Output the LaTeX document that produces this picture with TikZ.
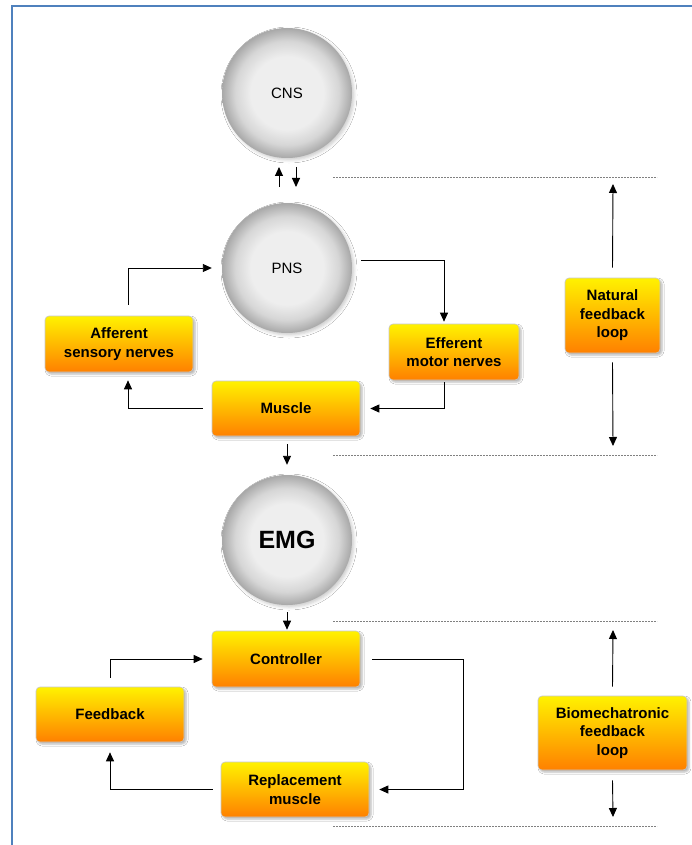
\documentclass[tikz,border=0pt]{standalone}
\usepackage{fontspec}
\setmainfont{Liberation Sans}
\usetikzlibrary{arrows.meta,shadows.blur,calc}

\definecolor{frameblue}{HTML}{4F81BD}
\definecolor{sphin}{HTML}{EEEEEE}
\definecolor{sphmid}{HTML}{D6D6D6}
\definecolor{sphout}{HTML}{A8A8A8}
\definecolor{boxtop}{HTML}{FFF200}
\definecolor{boxbot}{HTML}{FF8000}
\definecolor{boxedge}{HTML}{C8C8C8}

\pgfdeclareradialshading{sphere}{\pgfpoint{0bp}{0bp}}{%
  color(0bp)=(sphin); color(14bp)=(sphin); color(20bp)=(sphmid); color(25bp)=(sphout); color(50bp)=(sphout)}

\tikzset{
  sphere node/.style={circle, minimum size=130pt, inner sep=0pt,
    shading=sphere, draw=none,
    blur shadow={shadow xshift=2pt, shadow yshift=-2pt, shadow blur radius=3pt, shadow opacity=20}},
  orangebox/.style={rectangle, rounded corners=4pt, draw=boxedge, line width=0.6pt,
    top color=boxtop, bottom color=boxbot, align=center, inner sep=2pt,
    font=\fontsize{15}{18.5}\selectfont\bfseries,
    blur shadow={shadow xshift=2pt, shadow yshift=-2pt, shadow blur radius=2pt, shadow opacity=30}},
  arr/.style={draw=black, line width=0.9pt, -{Triangle[length=9pt,width=8pt]}},
  sepline/.style={draw=gray, line width=0.8pt, dash pattern=on 2pt off 1pt},
}

\begin{document}
\begin{tikzpicture}[x=1pt, y=-1pt]
\useasboundingbox (0,0) rectangle (691,845);
\fill[white] (0,0) rectangle (691,845);

% outer frame
\draw[frameblue, line width=2.5pt] (12,846) -- (12,6) -- (692,6);

% spheres
\node[sphere node, font=\fontsize{15}{18}\selectfont] (cns) at (287,93) {CNS};
\node[sphere node, font=\fontsize{15}{18}\selectfont] (pns) at (287,268) {PNS};
\node[sphere node, font=\fontsize{25}{30}\selectfont\bfseries] (emg) at (287,540) {EMG};

% boxes
\node[orangebox, minimum width=148pt, minimum height=56pt] (aff) at (119,344) {Afferent\\sensory nerves};
\node[orangebox, minimum width=130pt, minimum height=56pt] (eff) at (454,352) {Efferent\\motor nerves};
\node[orangebox, minimum width=148pt, minimum height=55pt] (mus) at (286,408.5) {Muscle};
\node[orangebox, minimum width=95pt, minimum height=75pt] (nat) at (612.5,315.5) {Natural\\feedback\\loop};
\node[orangebox, minimum width=148pt, minimum height=56pt] (ctrl) at (286,659) {Controller};
\node[orangebox, minimum width=148pt, minimum height=55pt] (fb) at (110,714.5) {Feedback};
\node[orangebox, minimum width=148pt, minimum height=55pt] (rep) at (295,789.5) {Replacement\\muscle};
\node[orangebox, minimum width=149pt, minimum height=74pt] (bio) at (612.5,733) {Biomechatronic\\feedback\\loop};

% separators
\draw[sepline] (333,177) -- (657,177);
\draw[sepline] (333,455) -- (657,455);
\draw[sepline] (333,621) -- (657,621);
\draw[sepline] (333,826) -- (657,826);

% CNS <-> PNS
\coordinate (upS) at (279,187);
\coordinate (upE) at (279,167);
\coordinate (dnS) at (296,167);
\coordinate (dnE) at (296,187);
\draw[arr] (upS) -- (upE);
\draw[arr] (dnS) -- (dnE);

% natural loop
\draw[arr] ([xshift=9pt,yshift=11pt]aff.north) |- ([xshift=-10pt]pns.west);
\draw[arr] ($(pns.east)+(9,-8)$) -| ([xshift=-10pt,yshift=2pt]eff.north);
\draw[arr] ([xshift=-10pt,yshift=-2pt]eff.south) |- ([xshift=10pt]mus.east);
\draw[arr] ([xshift=-9pt]mus.west) -| ([xshift=9pt,yshift=-8pt]aff.south);

% muscle -> EMG -> controller
\draw[arr] ([xshift=1pt,yshift=-8pt]mus.south) -- ([yshift=10pt]emg.north);
\draw[arr] ([yshift=-7pt]emg.south) -- ([xshift=1pt,yshift=1pt]ctrl.north);

% biomechatronic loop
\draw[arr] ([yshift=9pt]fb.north) |- ([xshift=-9pt]ctrl.west);
\draw[arr] ([xshift=12pt]ctrl.east) -- (463,659) |- ([xshift=10pt]rep.east);
\draw[arr] ([xshift=-8pt]rep.west) -| ([yshift=-10pt]fb.south);

% side arrows
\draw[arr] ([yshift=10pt]nat.north) -- (613,184);
\draw[arr] ([yshift=-9pt]nat.south) -- (613,446);
\draw[arr] ([yshift=9pt]bio.north) -- (613,630);
\draw[arr] ([yshift=-10pt]bio.south) -- (613,817);
\end{tikzpicture}
\end{document}
